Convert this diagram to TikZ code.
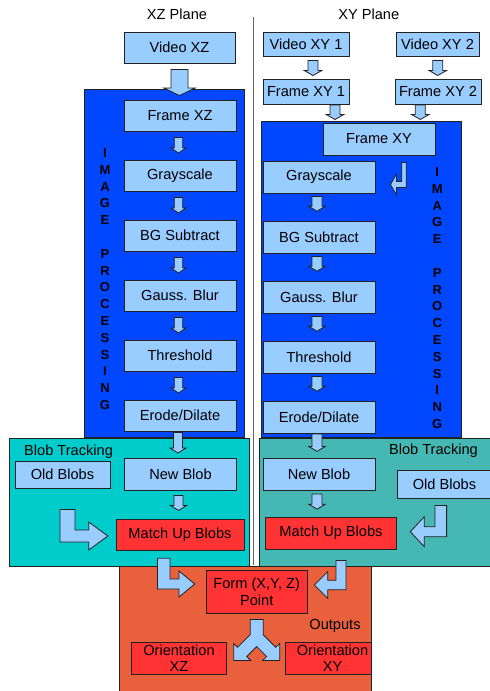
\documentclass[tikz,border=0pt]{standalone}
\usepackage{fontspec}
\setmainfont{Liberation Sans}
\usetikzlibrary{calc}

\definecolor{boxblue}{HTML}{99CCFF}
\definecolor{boxred}{HTML}{FF3333}
\definecolor{panelblue}{HTML}{0047FF}
\definecolor{tealL}{HTML}{00CCCC}
\definecolor{tealR}{HTML}{46B8B3}
\definecolor{outorange}{HTML}{E8603C}
\definecolor{edge}{HTML}{222222}

\tikzset{
  box/.style={draw=edge, line width=1pt, fill=boxblue, inner sep=0pt,
    font=\fontsize{14.6}{16.5}\selectfont, align=center},
  bx/.style 2 args={box, minimum width=#1pt, minimum height=#2pt},
  redbx/.style 2 args={bx={#1}{#2}, fill=boxred},
  panel/.style={draw=edge, line width=1pt},
  blk/.style={draw=edge, line width=0.8pt, fill=boxblue, line join=miter},
  vlabel/.style={font=\fontsize{13}{16.8}\bfseries\selectfont, align=center, inner sep=0pt},
  title/.style={font=\fontsize{14.6}{17}\selectfont, inner sep=0pt},
}

% straight block arrow pointing down: top point, tip point, shaft half width, head half width, head length
\newcommand\dnblk[5]{%
  \draw[blk] let \p1=#1, \p2=#2 in
    ({\x1-#3pt},\y1) -- ({\x1+#3pt},\y1) -- ({\x1+#3pt},{\y2+#5pt})
    -- ({\x1+#4pt},{\y2+#5pt}) -- (\x1,\y2) -- ({\x1-#4pt},{\y2+#5pt})
    -- ({\x1-#3pt},{\y2+#5pt}) -- cycle;}

% bent block arrow: down, then sideways (#3 = 1 right, -1 left)
% #1 top of vertical leg, #2 tip, #4 vertical half width, #5 horizontal half width,
% #6 head length, #7 head half height
\newcommand\bentblk[7]{%
  \draw[blk] let \p1=#1, \p2=#2 in
    ({\x1-(#3)*#4pt},\y1) -- ({\x1+(#3)*#4pt},\y1) -- ({\x1+(#3)*#4pt},{\y2+#5pt})
    -- ({\x2-(#3)*#6pt},{\y2+#5pt}) -- ({\x2-(#3)*#6pt},{\y2+#7pt}) -- (\x2,\y2)
    -- ({\x2-(#3)*#6pt},{\y2-#7pt}) -- ({\x2-(#3)*#6pt},{\y2-#5pt})
    -- ({\x1-(#3)*#4pt},{\y2-#5pt}) -- cycle;}

\begin{document}
\begin{tikzpicture}[x=1pt,y=-1pt]
\useasboundingbox (0,0) rectangle (490,691);

% divider between the two planes
\draw[black!60, line width=0.8pt] (253,17) -- (253,565);

\node[title] (tXZ) at (177,14) {XZ Plane};
\node[title] (tXY) at (368.7,14) {XY Plane};

% stage panels
\draw[panel, fill=panelblue] (84,89) rectangle (244,437);
\draw[panel, fill=panelblue] (261,121) rectangle (461,437);
\draw[panel, fill=tealL] (9.5,438) rectangle (249,566);
\draw[panel, fill=tealR] (259,438) rectangle (496,566);
\draw[panel, fill=outorange] (119,566) rectangle (371,696);

\node[vlabel] (ipL) at (105,279) {I\\M\\A\\G\\E\\[16.8pt]P\\R\\O\\C\\E\\S\\S\\I\\N\\G};
\node[vlabel] (ipR) at (437.3,298) {I\\M\\A\\G\\E\\[16.8pt]P\\R\\O\\C\\E\\S\\S\\I\\N\\G};

% XZ pipeline
\node[bx={111}{31}] (vxz) at (179.5,47.5) {Video XZ};
\node[bx={112}{31}] (fxz) at (180,115.5) {Frame XZ};
\node[bx={112}{31}] (gsL) at (180,175.5) {Grayscale};
\node[bx={112}{31}] (bgL) at (180,235.5) {BG Subtract};
\node[bx={112}{31}] (gbL) at (180,295.5) {Gauss. Blur};
\node[bx={112}{31}] (thL) at (180,355.5) {Threshold};
\node[bx={112}{31}] (edL) at (180,415.5) {Erode/Dilate};

% XY pipeline
\node[bx={86}{24}] (vxy1) at (306,44) {Video XY 1};
\node[bx={83}{24}] (vxy2) at (437.5,44) {Video XY 2};
\node[bx={86}{25}] (fxy1) at (306,91.5) {Frame XY 1};
\node[bx={86}{25}] (fxy2) at (438,91.5) {Frame XY 2};
\node[bx={112}{32}] (fxy) at (379,139) {Frame XY};
\node[bx={112}{32}] (gsR) at (319,177) {Grayscale};
\node[bx={112}{32}] (bgR) at (319,237) {BG Subtract};
\node[bx={112}{32}] (gbR) at (319,297) {Gauss. Blur};
\node[bx={112}{32}] (thR) at (319,357) {Threshold};
\node[bx={112}{32}] (edR) at (319,417) {Erode/Dilate};

% blob tracking
\node[title, anchor=west] (btL) at (24,451.5) {Blob Tracking};
\node[bx={95}{27}] (oldL) at (62.5,474.5) {Old Blobs};
\node[bx={112}{32}] (newL) at (180.5,474) {New Blob};
\node[redbx={128}{31}] (matchL) at (180,534.5) {Match Up Blobs};

\node[title, anchor=east] (btR) at (478,451) {Blob Tracking};
\node[bx={112}{32}] (newR) at (319,474.5) {New Blob};
\node[bx={95}{28}] (oldR) at (444.5,484) {Old Blobs};
\node[redbx={131}{32}] (matchR) at (331,533) {Match Up Blobs};

% outputs
\node[redbx={101}{43}] (form) at (256.7,591.7) {Form (X,Y, Z)\\Point};
\node[title] (outs) at (335,626) {Outputs};
\node[redbx={95}{32}] (oriXZ) at (179,658.3) {Orientation\\XZ};
\begin{scope}
  \clip (0,0) rectangle (371,691);
  \node[redbx={95}{32}] (oriXY) at (332.5,658.3) {Orientation\\XY};
\end{scope}
\draw[panel] (371,566) -- (371,691);

% arrows, XZ side
\dnblk{($(vxz.south)+(0,6)$)}{($(fxz.north)+(0,-4)$)}{8.5}{15.7}{7.5}
\dnblk{($(fxz.south)+(-1.5,6)$)}{($(gsL.north)+(0,-6.5)$)}{4.2}{7.5}{5}
\dnblk{($(gsL.south)+(-1.5,6)$)}{($(bgL.north)+(0,-6.5)$)}{4.2}{7.5}{5}
\dnblk{($(bgL.south)+(-1.5,6)$)}{($(gbL.north)+(0,-6.5)$)}{4.2}{7.5}{5}
\dnblk{($(gbL.south)+(-1.5,6)$)}{($(thL.north)+(0,-6.5)$)}{4.2}{7.5}{5}
\dnblk{($(thL.south)+(-1.5,6)$)}{($(edL.north)+(0,-6.5)$)}{4.2}{7.5}{5}
\dnblk{($(edL.south)+(-2,1)$)}{($(newL.north)+(0,-4.5)$)}{4.5}{8}{5}
\dnblk{($(newL.south)+(-2,5)$)}{($(matchL.north)+(0,-8)$)}{4.5}{8}{5}

% arrows, XY side
\dnblk{($(vxy1.south)+(7,4)$)}{($(fxy1.north)+(0,-3)$)}{5}{8.8}{5}
\dnblk{($(vxy2.south)+(0.3,4)$)}{($(fxy2.north)+(0,-3)$)}{5}{8.8}{5}
\dnblk{($(fxy1.south)+(29,0.5)$)}{($(fxy.north)+(0,-3)$)}{5}{8.8}{5}
\dnblk{($(fxy2.south)+(-17.7,0.5)$)}{($(fxy.north)+(0,-3)$)}{5}{8.8}{5}
\bentblk{($(fxy.south)+(25,7)$)}{($(gsR.east)+(15,7.5)$)}{-1}{2.2}{3}{6}{10.5}
\dnblk{($(gsR.south)+(-2,3)$)}{($(bgR.north)+(0,-9.3)$)}{5}{8.3}{5}
\dnblk{($(bgR.south)+(-2,3)$)}{($(gbR.north)+(0,-9.3)$)}{5}{8.3}{5}
\dnblk{($(gbR.south)+(-2,3)$)}{($(thR.north)+(0,-9.3)$)}{5}{8.3}{5}
\dnblk{($(thR.south)+(-2,3)$)}{($(edR.north)+(0,-9.3)$)}{5}{8.3}{5}
\dnblk{($(edR.south)+(-2,0.5)$)}{($(newR.north)+(0,-6.6)$)}{5}{8.3}{5}
\dnblk{($(newR.south)+(-2,3)$)}{($(matchR.north)+(0,-7.3)$)}{5}{8.3}{5}

% old blobs feed the matching step
\bentblk{($(oldL.south)+(5,21)$)}{($(matchL.west)+(-7.7,1.5)$)}{1}{7.5}{6}{19}{14}
\bentblk{($(oldR.south)+(-3.7,7)$)}{($(matchR.east)+(13.3,-1.3)$)}{-1}{5.8}{5}{14}{15}

% matched blobs form the 3D point
\bentblk{($(matchL.south)+(-16.3,7.7)$)}{($(form.west)+(-11,-7.7)$)}{1}{6.3}{5}{15.7}{13}
\bentblk{($(matchR.south)+(10,11)$)}{($(form.east)+(6.7,-6.7)$)}{-1}{5}{4.7}{13.3}{13.3}

% split arrow towards both orientations
\draw[blk, shift={(form.south)}]
  (-6.5,5.7) -- (6.5,5.7) -- (6.5,21) -- (19.1,33.6) -- (23,29.7) -- (23,46.7)
  -- (6,46.7) -- (9.9,42.8) -- (0,32.9) -- (-9.9,42.8) -- (-6,46.7) -- (-23,46.7)
  -- (-23,29.7) -- (-19.1,33.6) -- (-6.5,21) -- cycle;
\end{tikzpicture}
\end{document}
